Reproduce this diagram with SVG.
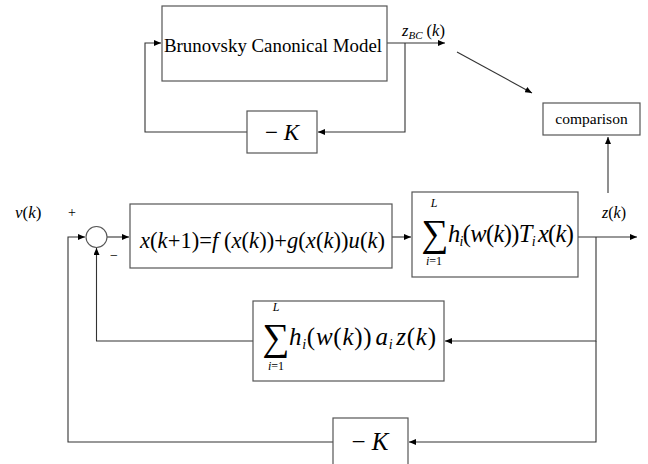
<svg xmlns="http://www.w3.org/2000/svg" width="648" height="464" viewBox="0 0 648 464">
<defs>
<marker id="arr" markerWidth="8" markerHeight="6" refX="7" refY="3" orient="auto" markerUnits="userSpaceOnUse">
<path d="M0,0 L7,3 L0,6 Z" fill="#000"/>
</marker>
<style>
.box{fill:#fff;stroke:#555;stroke-width:1.2}
.ln{fill:none;stroke:#333;stroke-width:1.1}
.t{font-family:"Liberation Serif","Times New Roman",serif;fill:#000}
.i{font-style:italic}
</style>
</defs>
<rect width="648" height="464" fill="#fff"/>

<g id="connectors">
<path class="ln" d="M387,43 H445" marker-end="url(#arr)"/>
<path class="ln" d="M405,43 V132 H318" marker-end="url(#arr)"/>
<path class="ln" d="M247,132 H145 V43 H161" marker-end="url(#arr)"/>
<path class="ln" d="M457,52 L532,93" marker-end="url(#arr)"/>
<path class="ln" d="M608,193 V137" marker-end="url(#arr)"/>
<path class="ln" d="M333,442 H68 V237 H85" marker-end="url(#arr)"/>
<path class="ln" d="M107,237 H129" marker-end="url(#arr)"/>
<path class="ln" d="M392,237 H411" marker-end="url(#arr)"/>
<path class="ln" d="M578,237 H637" marker-end="url(#arr)"/>
<path class="ln" d="M596,237 V341 H445" marker-end="url(#arr)"/>
<path class="ln" d="M253,341 H96.5 V248" marker-end="url(#arr)"/>
<path class="ln" d="M596,341 V442 H409" marker-end="url(#arr)"/>
</g>

<g id="brunovsky">
<rect class="box" x="162" y="6" width="225" height="75"/>
<text class="t" x="164" y="52" font-size="19.5" textLength="218" lengthAdjust="spacingAndGlyphs">Brunovsky Canonical Model</text>
</g>

<g id="zbc-label">
<text class="t" x="402" y="36" font-size="16.5"><tspan class="i">z</tspan><tspan class="i" font-size="11" dy="3">BC</tspan><tspan dy="-3"> (</tspan><tspan class="i">k</tspan>)</text>
</g>

<g id="minusK-top">
<rect class="box" x="247" y="111" width="70" height="42"/>
<text class="t" x="282" y="140" font-size="23" text-anchor="middle">− <tspan class="i">K</tspan></text>
</g>

<g id="comparison">
<rect class="box" x="543" y="103" width="97" height="32"/>
<text class="t" x="591.5" y="124" font-size="15.5" text-anchor="middle">comparison</text>
</g>

<g id="input-label">
<text class="t" x="15" y="218" font-size="17"><tspan class="i">v</tspan>(<tspan class="i">k</tspan>)</text>
<text class="t" x="72" y="217" font-size="14" text-anchor="middle">+</text>
<text class="t" x="114" y="260" font-size="14" text-anchor="middle">−</text>
</g>

<g id="sum-junction">
<circle cx="96.5" cy="237" r="10.5" fill="#fff" stroke="#555" stroke-width="1.1"/>
</g>

<g id="plant">
<rect class="box" x="130" y="204" width="262" height="64"/>
<text class="t" x="140" y="248" font-size="22.5" textLength="245" lengthAdjust="spacing"><tspan class="i">x</tspan>(<tspan class="i">k</tspan>+1)=<tspan class="i">f</tspan> (<tspan class="i">x</tspan>(<tspan class="i">k</tspan>))+<tspan class="i">g</tspan>(<tspan class="i">x</tspan>(<tspan class="i">k</tspan>))<tspan class="i">u</tspan>(<tspan class="i">k</tspan>)</text>
</g>

<g id="transform">
<rect class="box" x="412" y="192" width="166" height="85"/>
<text class="t i" x="434" y="207" font-size="12" text-anchor="middle">L</text>
<text class="t" x="435" y="246" font-size="38" text-anchor="middle">∑</text>
<text class="t" x="434" y="265" font-size="12" text-anchor="middle"><tspan class="i">i</tspan>=1</text>
<text class="t" x="448" y="242" font-size="24.5" textLength="126" lengthAdjust="spacing"><tspan class="i">h</tspan><tspan class="i" font-size="14" dy="4">i</tspan><tspan dy="-4">(</tspan><tspan class="i">w</tspan>(<tspan class="i">k</tspan>))<tspan class="i">T</tspan><tspan class="i" font-size="14" dy="4">i</tspan><tspan class="i" dy="-4" dx="3">x</tspan>(<tspan class="i">k</tspan>)</text>
</g>

<g id="feedback-sum">
<rect class="box" x="253" y="301" width="191" height="80"/>
<text class="t i" x="276" y="311" font-size="12" text-anchor="middle">L</text>
<text class="t" x="276" y="350" font-size="38" text-anchor="middle">∑</text>
<text class="t" x="276" y="370" font-size="12" text-anchor="middle"><tspan class="i">i</tspan>=1</text>
<text class="t" x="289" y="345" font-size="25" textLength="147" lengthAdjust="spacing"><tspan class="i">h</tspan><tspan class="i" font-size="14" dy="4">i</tspan><tspan dy="-4">(</tspan><tspan class="i">w</tspan>(<tspan class="i">k</tspan>))<tspan class="i" dx="3">a</tspan><tspan class="i" font-size="14" dy="4">i</tspan><tspan class="i" dy="-4" dx="3">z</tspan>(<tspan class="i">k</tspan>)</text>
</g>

<g id="minusK-bottom">
<rect class="box" x="333" y="418" width="75" height="50"/>
<text class="t" x="370" y="450" font-size="25" text-anchor="middle">− <tspan class="i">K</tspan></text>
</g>

<g id="z-label">
<text class="t" x="602" y="218" font-size="16"><tspan class="i">z</tspan>(<tspan class="i">k</tspan>)</text>
</g>
</svg>
